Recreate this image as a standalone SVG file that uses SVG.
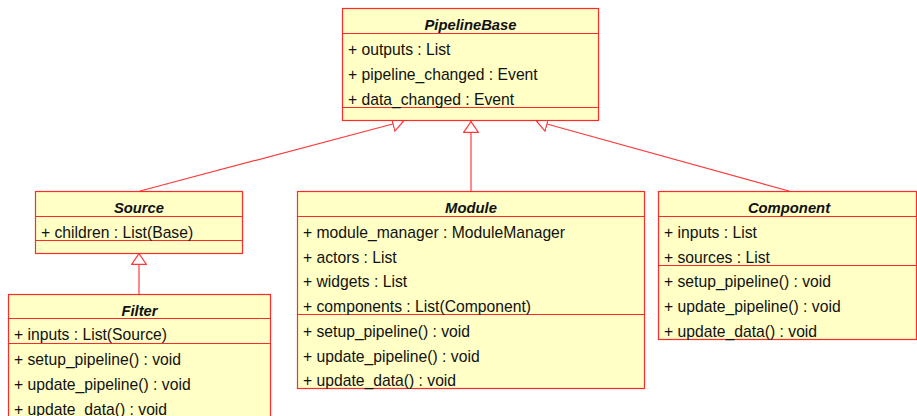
<svg xmlns="http://www.w3.org/2000/svg" width="917" height="416" viewBox="0 0 917 416">
  <style>
    .box { fill: #ffffc6; stroke: #ff2a2a; stroke-width: 1.2; }
    .sep { stroke: #ff2a2a; stroke-width: 1.2; }
    .title { font-family: "Liberation Sans", Arial, sans-serif; font-size: 14.8px; font-weight: bold; font-style: italic; fill: #111; text-anchor: middle; }
    .item { font-family: "Liberation Sans", Arial, sans-serif; font-size: 15.7px; fill: #111; }
    .edge { stroke: #ff3a3a; stroke-width: 1.2; fill: none; marker-end: url(#gen); }
  </style>
  <defs>
    <marker id="gen" viewBox="0 0 12 16" refX="12" refY="8" markerWidth="12" markerHeight="16" markerUnits="userSpaceOnUse" orient="auto">
      <path d="M0.6,0.6 L11.4,8 L0.6,15.4 Z" fill="#ffffff" stroke="#ff3a3a" stroke-width="1.2"/>
    </marker>
  </defs>

  <!-- generalization connectors -->
  <g id="connectors">
    <line class="edge" x1="140" y1="191" x2="404" y2="121"/>
    <line class="edge" x1="471" y1="191" x2="471" y2="121"/>
    <line class="edge" x1="789" y1="191" x2="536" y2="121"/>
    <line class="edge" x1="139" y1="294" x2="139" y2="253"/>
  </g>

  <g id="PipelineBase">
    <rect class="box" x="342.5" y="8.5" width="256" height="112"/>
    <line class="sep" x1="342.5" y1="33.5" x2="598.5" y2="33.5"/>
    <line class="sep" x1="342.5" y1="107.5" x2="598.5" y2="107.5"/>
    <text class="title" x="470.5" y="30">PipelineBase</text>
    <text class="item" x="348" y="55">+ outputs : List</text>
    <text class="item" x="348" y="80">+ pipeline_changed : Event</text>
    <text class="item" x="348" y="105">+ data_changed : Event</text>
  </g>

  <g id="Source">
    <rect class="box" x="35.5" y="191.5" width="207" height="62"/>
    <line class="sep" x1="35.5" y1="216.5" x2="242.5" y2="216.5"/>
    <line class="sep" x1="35.5" y1="240.5" x2="242.5" y2="240.5"/>
    <text class="title" x="139" y="213">Source</text>
    <text class="item" x="41" y="238">+ children : List(Base)</text>
  </g>

  <g id="Filter">
    <rect class="box" x="8.5" y="294.5" width="262" height="130"/>
    <line class="sep" x1="8.5" y1="318.5" x2="270.5" y2="318.5"/>
    <line class="sep" x1="8.5" y1="343.5" x2="270.5" y2="343.5"/>
    <text class="title" x="139.5" y="316">Filter</text>
    <text class="item" x="14" y="340">+ inputs : List(Source)</text>
    <text class="item" x="14" y="365">+ setup_pipeline() : void</text>
    <text class="item" x="14" y="390">+ update_pipeline() : void</text>
    <text class="item" x="14" y="415">+ update_data() : void</text>
  </g>

  <g id="Module">
    <rect class="box" x="297.5" y="191.5" width="347" height="197"/>
    <line class="sep" x1="297.5" y1="216.5" x2="644.5" y2="216.5"/>
    <line class="sep" x1="297.5" y1="314.5" x2="644.5" y2="314.5"/>
    <text class="title" x="471" y="213">Module</text>
    <text class="item" x="303" y="238">+ module_manager : ModuleManager</text>
    <text class="item" x="303" y="263">+ actors : List</text>
    <text class="item" x="303" y="287">+ widgets : List</text>
    <text class="item" x="303" y="312">+ components : List(Component)</text>
    <text class="item" x="303" y="337">+ setup_pipeline() : void</text>
    <text class="item" x="303" y="362">+ update_pipeline() : void</text>
    <text class="item" x="303" y="386">+ update_data() : void</text>
  </g>

  <g id="Component">
    <rect class="box" x="658.5" y="191.5" width="258" height="148"/>
    <line class="sep" x1="658.5" y1="216.5" x2="916.5" y2="216.5"/>
    <line class="sep" x1="658.5" y1="265.5" x2="916.5" y2="265.5"/>
    <text class="title" x="789" y="213">Component</text>
    <text class="item" x="664" y="238">+ inputs : List</text>
    <text class="item" x="664" y="263">+ sources : List</text>
    <text class="item" x="664" y="287">+ setup_pipeline() : void</text>
    <text class="item" x="664" y="312">+ update_pipeline() : void</text>
    <text class="item" x="664" y="337">+ update_data() : void</text>
  </g>
</svg>
